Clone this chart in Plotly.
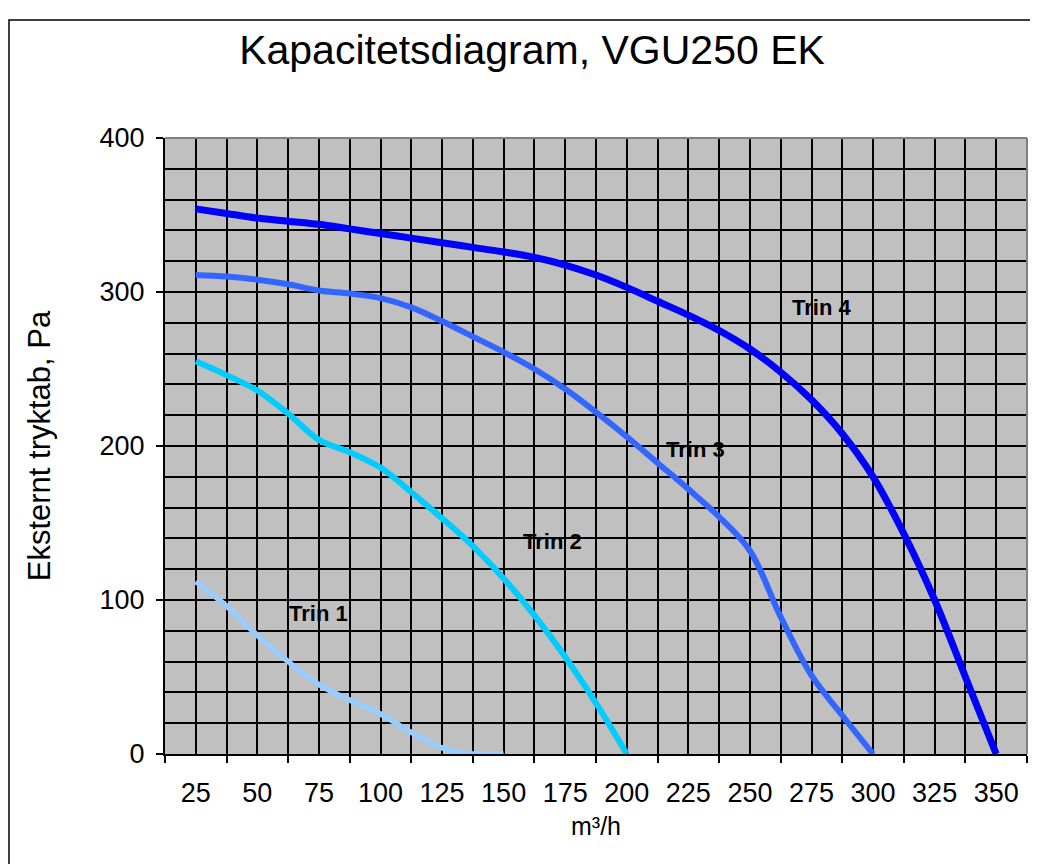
import plotly.graph_objects as go

# ---- data ----
flow = [25, 37.5, 50, 62.5, 75, 87.5, 100, 112.5, 125, 137.5, 150, 162.5, 175,
        187.5, 200, 212.5, 225, 237.5, 250, 262.5, 275, 287.5, 300, 312.5, 325,
        337.5, 350]

trin1 = [112, 96, 77, 60, 45, 35, 26, 14, 4, 0, 0]
trin2 = [255, 246, 236, 221, 204, 196, 186, 170, 153, 135, 114, 90, 63, 33, 0]
trin3 = [311, 310, 308, 305, 301, 299, 296, 290, 281, 271, 261, 250, 237, 222,
         206, 189, 172, 154, 132, 89, 51, 25, 0]
trin4 = [354, 351, 348, 346, 344, 341, 338, 335, 332, 329, 326, 322.5, 317.5, 311,
         303, 294, 285, 275, 263, 248, 230, 208, 180, 143, 100, 50, 0]

series_names = ["Trin 1", "Trin 2", "Trin 3", "Trin 4"]
series_colors = ["#99CCFF", "#00CCFF", "#3366FF", "#0000FF"]
series_widths = [5.5, 6, 6, 7]
series_values = [trin1, trin2, trin3, trin4]

label_x = [75, 170, 228, 279]
label_y = [91, 138, 198, 290]

x_labels = [25, 50, 75, 100, 125, 150, 175, 200, 225, 250, 275, 300, 325, 350]
y_labels = [0, 100, 200, 300, 400]

title_text = "Kapacitetsdiagram, VGU250 EK"
x_title = "m³/h"
y_title = "Eksternt tryktab, Pa"

FONT = "Liberation Sans, Arial, sans-serif"

# screen geometry (page body has an 8px margin)
OFF = 8
PL, PR, PT, PB = 165, 1027, 138, 754   # plot area in screen px
W, H = 1038 - OFF, 864 - OFF


def px(sx):
    return (sx - PL) / (PR - PL)


def py(sy):
    return (PB - sy) / (PB - PT)


fig = go.Figure()
for name, vals, col, w in zip(series_names, series_values, series_colors, series_widths):
    fig.add_trace(go.Scatter(
        x=flow[:len(vals)], y=vals, mode="lines", name=name,
        line=dict(color=col, width=w, shape="spline", smoothing=1.0),
        showlegend=False, hoverinfo="skip"))

for name, lx, ly in zip(series_names, label_x, label_y):
    fig.add_annotation(x=lx, y=ly, text="<b>" + name + "</b>", showarrow=False,
                       font=dict(family=FONT, size=22, color="black"),
                       xanchor="center", yanchor="middle")

# plot-area top/right gray border
fig.add_shape(type="line", xref="paper", yref="paper", x0=0, x1=1, y0=1, y1=1,
              line=dict(color="#808080", width=2), layer="above")
fig.add_shape(type="line", xref="paper", yref="paper", x0=1, x1=1, y0=0, y1=1,
              line=dict(color="#808080", width=2), layer="above")
# outer chart frame
fig.add_shape(type="rect", xref="paper", yref="paper",
              x0=px(9), x1=px(1031), y0=py(900), y1=py(20),
              line=dict(color="black", width=1.5), layer="above")

fig.update_layout(
    width=W, height=H,
    margin=dict(l=PL - OFF, r=W - (PR - OFF), t=PT - OFF, b=H - (PB - OFF)),
    paper_bgcolor="white", plot_bgcolor="#C0C0C0",
    title=dict(text=title_text, x=px(532), xref="paper", xanchor="center",
               y=1 - (50 - OFF) / H, yanchor="middle",
               font=dict(family=FONT, size=41, color="black")),
    font=dict(family=FONT, color="black"),
)

fig.update_xaxes(
    range=[12.5, 362.5], tickmode="array", tickvals=x_labels,
    ticktext=[str(v) for v in x_labels], ticks="", ticklen=0,
    tickfont=dict(family=FONT, size=27), ticklabelstandoff=14,
    showgrid=True, gridcolor="black", gridwidth=1.5,
    showline=True, linecolor="black", linewidth=2, zeroline=False,
    minor=dict(tick0=12.5, dtick=25, ticks="outside", ticklen=7, tickcolor="black",
               tickwidth=1.5, showgrid=True, gridcolor="black", gridwidth=1.5),
    title=dict(text=x_title, font=dict(family=FONT, size=25), standoff=10),
)
fig.update_yaxes(
    range=[0, 400], tickmode="array", tickvals=y_labels,
    ticktext=[str(v) for v in y_labels], ticks="outside", ticklen=7,
    tickcolor="black", tickwidth=1.5,
    tickfont=dict(family=FONT, size=27), ticklabelstandoff=6,
    showgrid=True, gridcolor="black", gridwidth=1.5,
    showline=True, linecolor="black", linewidth=2, zeroline=False,
    minor=dict(dtick=20, showgrid=True, gridcolor="black", gridwidth=1.5, ticks=""),
    title=dict(text=y_title, font=dict(family=FONT, size=31), standoff=40),
)

fig.write_html("out.html")
